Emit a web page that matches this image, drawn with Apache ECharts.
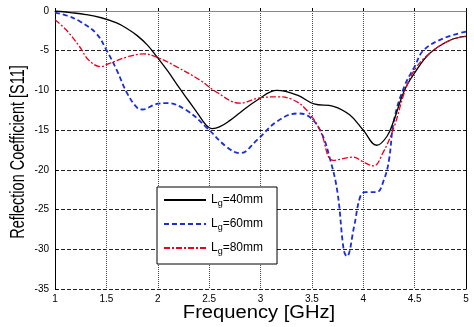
<!DOCTYPE html>
<html><head><meta charset="utf-8">
<script src="https://cdn.jsdelivr.net/npm/echarts@6/dist/echarts.min.js"></script>
<style>html,body{margin:0;padding:0;background:#fff}#c{width:474px;height:327px}</style>
</head><body><div id="c"></div>
<script>
const xTicks = [1, 1.5, 2, 2.5, 3, 3.5, 4, 4.5, 5];
const yTicks = [0, -5, -10, -15, -20, -25, -30, -35];
const seriesNames = ['40mm', '60mm', '80mm'];
const xTitle = 'Frequency [GHz]';
const yTitle = 'Reflection Coefficient [S11]';

const f40 = [1.0,1.15,1.3,1.45,1.6,1.7,1.8,1.9,2.0,2.1,2.2,2.3,2.4,2.46,2.53,2.6,2.7,2.8,2.97,3.16,3.36,3.52,3.71,3.87,4.0,4.13,4.23,4.3,4.4,4.5,4.65,4.85,5.0];
const s40 = [0,-0.2,-0.45,-0.85,-1.5,-2.2,-3.1,-4.3,-5.9,-7.6,-9.5,-11.3,-13.1,-14.2,-14.8,-14.6,-13.8,-12.8,-11.2,-10.0,-10.6,-11.7,-12.0,-13.1,-15.0,-16.9,-15.8,-13.7,-10.0,-7.8,-5.3,-3.65,-3.2];

const f60 = [1.0,1.12,1.24,1.4,1.5,1.6,1.7,1.8,1.85,1.99,2.09,2.28,2.47,2.67,2.8,2.97,3.16,3.36,3.45,3.58,3.68,3.75,3.81,3.84,3.91,3.97,4.02,4.13,4.2,4.25,4.3,4.4,4.5,4.59,4.79,5.0];
const s60 = [-0.2,-0.6,-1.3,-2.8,-4.9,-7.4,-10.3,-12.2,-12.4,-11.7,-11.6,-12.5,-14.6,-17.1,-17.9,-16.2,-13.9,-12.9,-13.1,-15.0,-18.8,-22.9,-30.1,-30.9,-27.2,-23.4,-22.8,-22.8,-21.3,-18.8,-13.7,-9.5,-7.0,-4.9,-3.4,-2.6];

const f80 = [1.0,1.11,1.24,1.33,1.45,1.53,1.7,1.86,1.99,2.18,2.41,2.57,2.8,2.97,3.16,3.32,3.45,3.58,3.71,3.9,4.0,4.1,4.19,4.3,4.4,4.5,4.65,4.85,5.0];
const s80 = [-1.1,-2.4,-4.5,-6.2,-7.0,-6.6,-5.8,-5.4,-5.8,-7.0,-8.7,-10.2,-11.6,-11.0,-10.8,-11.2,-12.5,-15.0,-18.8,-18.4,-19.0,-19.5,-17.9,-14.6,-10.3,-7.4,-5.3,-3.65,-3.2];

const zip = (f, s) => f.map((x, i) => [x, s[i]]);
const chart = echarts.init(document.getElementById('c'));
const font = 'Liberation Sans, Arial, sans-serif';
chart.setOption({
  animation: false,
  grid: {left: 55, right: 8, top: 11, bottom: 38},
  graphic: [
    {type: 'text', x: 259, y: 304, scaleX: 1.12,
     style: {text: xTitle, font: '18px ' + font, fill: '#000', textAlign: 'center', textVerticalAlign: 'top'}},
    {type: 'text', x: 8, y: 152, rotation: Math.PI / 2, scaleY: 1.35,
     style: {text: yTitle, font: '14.5px ' + font, fill: '#000', textAlign: 'center', textVerticalAlign: 'top'}}
  ],
  xAxis: [{
    type: 'value', min: 1, max: 5, interval: 0.5,
    axisLine: {show: true, lineStyle: {color: '#000'}},
    axisTick: {show: true, inside: true, length: 3, lineStyle: {color: '#000'}},
    axisLabel: {fontFamily: font, fontSize: 10, color: '#000', margin: 5,
      formatter: v => xTicks.includes(v) ? String(v) : ''},
    splitLine: {show: true, lineStyle: {color: '#444', type: 'dotted', width: 1}}
  }, {
    type: 'value', min: 1, max: 5, interval: 0.5, position: 'top',
    axisLine: {show: true, lineStyle: {color: '#888'}},
    axisTick: {show: false}, axisLabel: {show: false}, splitLine: {show: false}
  }],
  yAxis: [{
    type: 'value', min: -35, max: 0, interval: 5,
    axisLine: {show: true, lineStyle: {color: '#000'}},
    axisTick: {show: true, inside: true, length: 3, lineStyle: {color: '#000'}},
    axisLabel: {fontFamily: font, fontSize: 10, color: '#000', margin: 6,
      formatter: v => yTicks.includes(v) ? String(v) : ''},
    splitLine: {show: true, lineStyle: {color: '#222', type: 'dashed', width: 1}}
  }, {
    type: 'value', min: -35, max: 0, interval: 5, position: 'right',
    axisLine: {show: true, lineStyle: {color: '#000'}},
    axisTick: {show: false}, axisLabel: {show: false}, splitLine: {show: false}
  }],
  legend: {
    orient: 'vertical', left: 157, top: 187,
    padding: [7, 14, 8, 6], itemGap: 10, itemWidth: 42, itemHeight: 14,
    backgroundColor: '#fff', borderColor: '#000', borderWidth: 1,
    data: seriesNames,
    itemStyle: {opacity: 0},
    formatter: n => '{a|L}{b|g}{a|=' + n + '}',
    textStyle: {
      fontFamily: font, color: '#000',
      rich: {a: {fontSize: 12, fontFamily: font, color: '#000'},
             b: {fontSize: 9, fontFamily: font, color: '#000', padding: [7, 0, 0, 0]}}
    }
  },
  series: [
    {name: seriesNames[0], type: 'line', data: zip(f40, s40), symbol: 'none', smooth: 0.4, z: 5,
     lineStyle: {color: '#000', width: 1.3, type: 'solid'}, itemStyle: {color: '#000'}},
    {name: seriesNames[1], type: 'line', data: zip(f60, s60), symbol: 'none', smooth: 0.4, z: 4,
     lineStyle: {color: '#1a2ed8', width: 1.8, type: [5, 3]}, itemStyle: {color: '#1a2ed8'}},
    {name: seriesNames[2], type: 'line', data: zip(f80, s80), symbol: 'none', smooth: 0.4, z: 6,
     lineStyle: {color: '#e8001c', width: 1.3, type: [6, 2, 2, 2]}, itemStyle: {color: '#e8001c'}}
  ]
});
</script></body></html>
